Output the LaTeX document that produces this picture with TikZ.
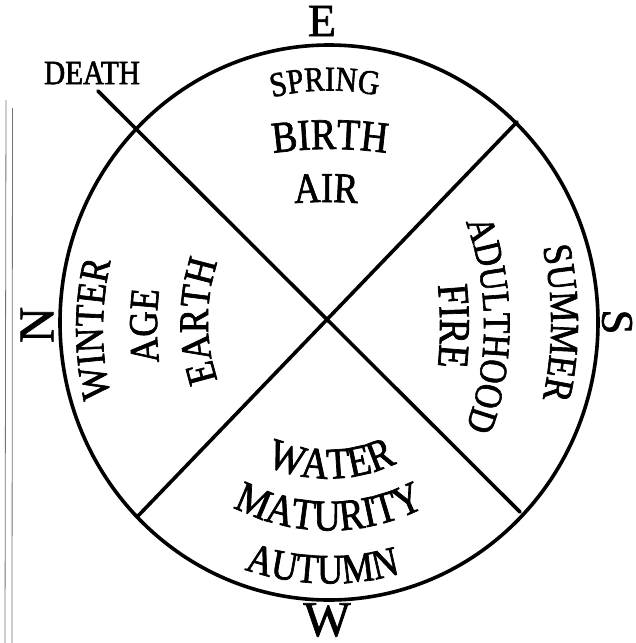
\documentclass[tikz,border=0pt]{standalone}
\usepackage{fontspec}
\setmainfont{Liberation Serif}
\newfontfamily\oldf[FakeStretch=0.86,FakeBold=1.6]{Liberation Serif}
\newfontfamily\polef[FakeBold=1.4]{Liberation Serif}
\usetikzlibrary{decorations.text,calc}
\newcommand\wordarc[7]{%
  \path[decorate,decoration={text along path,text align=center,
    text={|\oldf\fontsize{#6}{#6}\selectfont|#7}}]
    ($(#1,#2)+(#4:#3)$) arc[start angle=#4,end angle=#5,radius=#3];}
\begin{document}
\begin{tikzpicture}[x=1pt,y=1pt,
  rim/.style={line width=3.6pt},
  spoke/.style={line width=3.6pt,line cap=round},
  margin/.style={line width=0.8pt,black!55},
  pole/.style={inner sep=0pt,font=\polef\fontsize{#1}{#1}\selectfont}]
\useasboundingbox (0,0) rectangle (636,-643);
\fill[white] (0,0) rectangle (636,-643);
% page margin lines
\draw[margin] (6,-100) -- (5,-643);
\draw[margin] (12.5,-108) -- (12,-643);
% circle and cross
\coordinate (C) at (329,-322.5);
\coordinate (L1a) at (98,-91);
\coordinate (L1b) at (520,-512);
\coordinate (L2a) at (517,-122);
\coordinate (L2b) at (137,-517);
\draw[rim] (C) ellipse[x radius=269, y radius=277.5];
\draw[spoke] (L1a) -- (L1b);
\draw[spoke] (L2a) -- (L2b);
% cardinal letters
\node[pole=46] (E) at (322,-21) {E};
\node[pole=50] (W) at (327,-620) {W};
\node[pole=50,rotate=90] (N) at (37,-325) {N};
\node[pole=45,rotate=-90] (S) at (617,-322) {S};
\node[inner sep=0pt,font=\oldf\fontsize{34}{34}\selectfont] (death) at (92,-73) {DEATH};
% top quarter
\wordarc{329}{-322.5}{232}{116}{66}{34.7}{SPRING}
\wordarc{330}{-549}{400}{106}{74}{44}{BIRTH}
\wordarc{326}{-602}{400}{102}{78}{42.5}{AIR}
% left quarter
\wordarc{403}{-329}{300}{205}{155}{41}{WINTER}
\wordarc{457}{-326}{300}{195}{165}{41}{AGE}
\wordarc{394}{-321}{186}{210}{150}{42}{EARTH}
% right quarter
\wordarc{201}{-323}{350}{22}{-22}{41}{SUMMER}
\wordarc{184}{-325}{300}{30}{-30}{39}{ADULTHOOD}
\wordarc{40}{-326}{400}{14}{-14}{44}{FIRE}
% bottom quarter
\wordarc{329}{-322.5}{156}{231}{311}{44}{WATER}
\wordarc{329}{-322.5}{208}{230}{310}{44}{MATURITY}
\wordarc{329}{-322.5}{261}{238.5}{298.5}{42}{AUTUMN}
\end{tikzpicture}
\end{document}
